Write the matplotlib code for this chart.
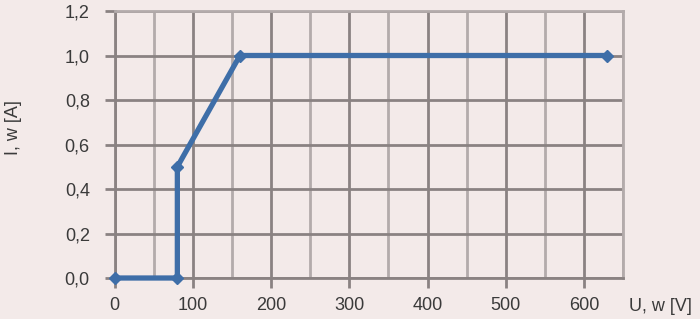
import matplotlib
matplotlib.use('Agg')
import matplotlib.pyplot as plt
from matplotlib.ticker import MultipleLocator

plt.rcParams['font.family'] = ['Liberation Sans', 'DejaVu Sans']

# characteristic points
u = [0, 80, 80, 160, 630]
i = [0.0, 0.0, 0.5, 1.0, 1.0]

xticks = [0, 100, 200, 300, 400, 500, 600]
yticks = [0.0, 0.2, 0.4, 0.6, 0.8, 1.0, 1.2]

bg = '#f3eae9'
grid_dark = '#8a8282'
grid_light = '#b3abab'
txt = '#3a3a3a'

fig = plt.figure(figsize=(7, 3.19), dpi=100, facecolor=bg)
ax = fig.add_axes([0.164, 0.1285, 0.726, 0.837], facecolor=bg)

ax.set_xlim(0, 650)
ax.set_ylim(0, 1.2)
ax.set_xticks(xticks)
ax.set_yticks(yticks)
ax.xaxis.set_minor_locator(MultipleLocator(50))
ax.set_yticklabels([('%.1f' % v).replace('.', ',') for v in yticks])

ax.grid(which='major', color=grid_dark, lw=2.0)
ax.grid(which='minor', axis='x', color=grid_light, lw=2.0)
ax.set_axisbelow(True)

for s in ax.spines.values():
    s.set_color(grid_light)
    s.set_linewidth(2.0)
ax.spines['bottom'].set_color(grid_dark)
ax.spines['left'].set_color(grid_dark)

ax.tick_params(which='major', axis='both', colors=grid_dark, width=2.0, length=7,
               labelcolor=txt, labelsize=13)
ax.tick_params(which='major', axis='y', pad=11)
ax.tick_params(which='major', axis='x', pad=7)
ax.tick_params(which='minor', length=0)

ax.plot(u, i, color='#3e6ea8', lw=3.8, marker='D', ms=6.5, clip_on=False,
        solid_joinstyle='miter', zorder=5)

fig.text(0.02, 0.60, 'I, w [A]', rotation=90, ha='center', va='center',
         fontsize=13, color=txt)
fig.text(0.943, 0.038, 'U, w [V]', ha='center', va='center',
         fontsize=13, color=txt)

fig.savefig('out.png', dpi=100, facecolor=bg)
